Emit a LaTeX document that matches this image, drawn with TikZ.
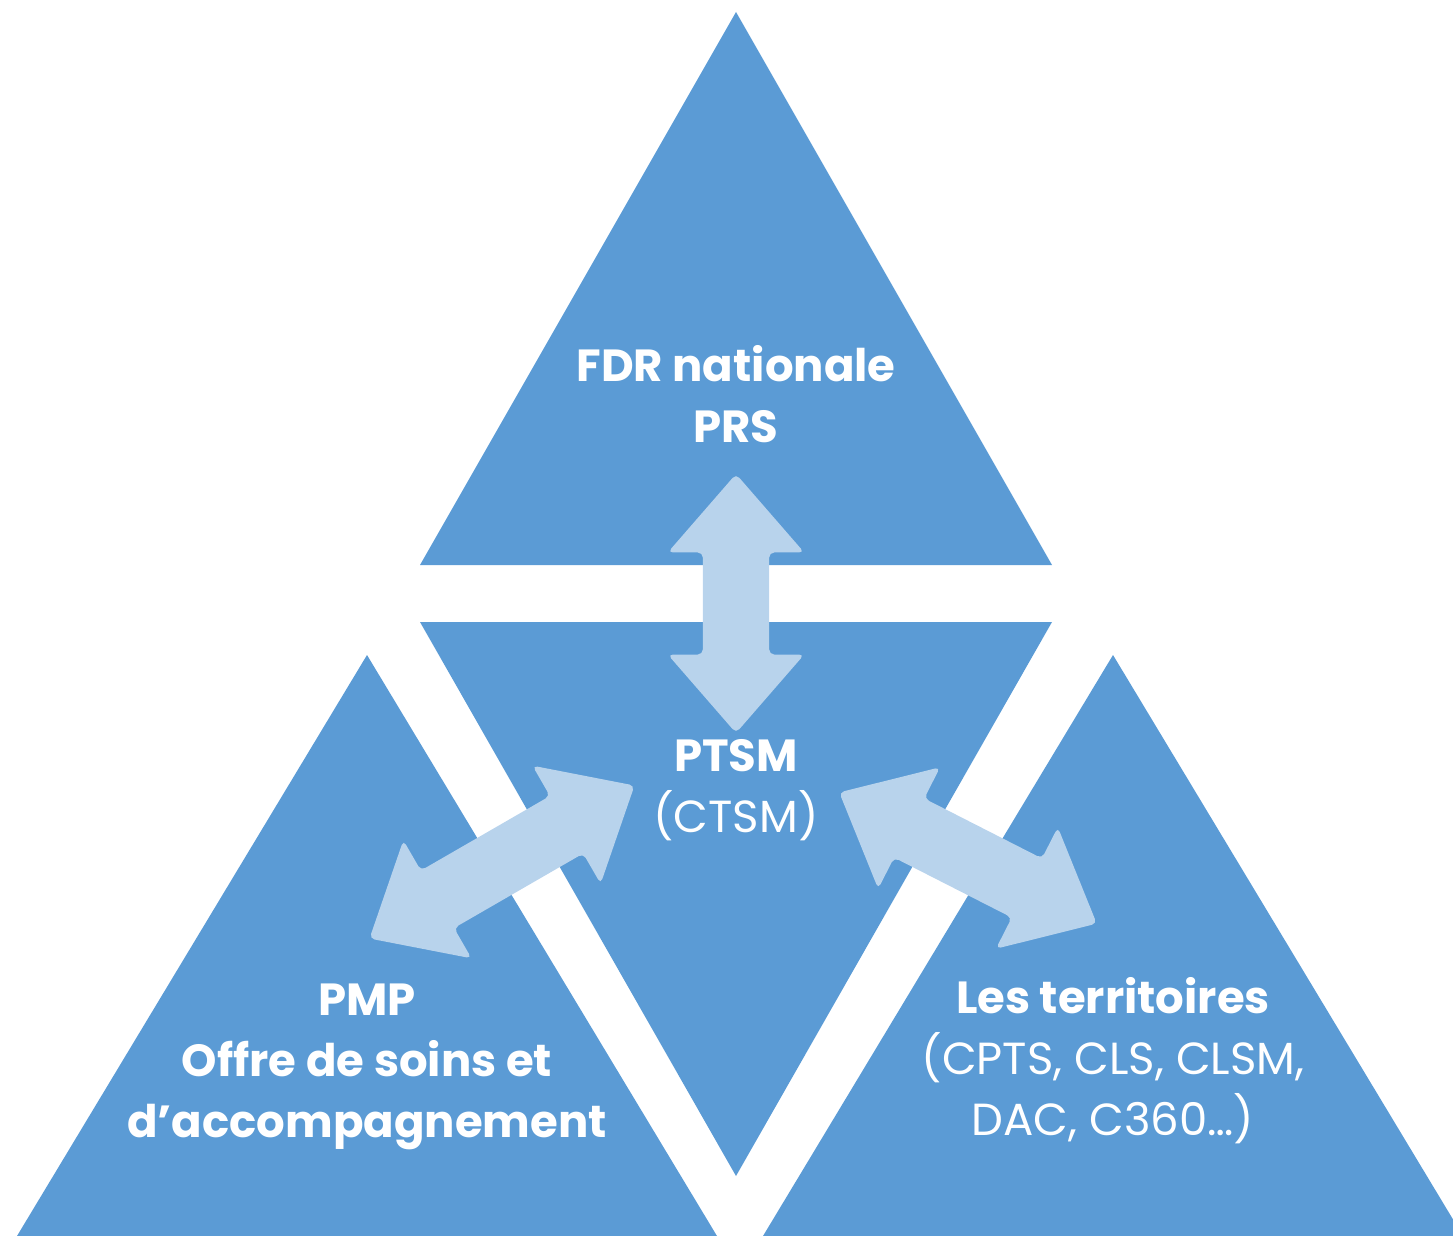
\documentclass[tikz,border=0pt]{standalone}
\usepackage{fontspec}
\setmainfont{Poppins}
\usepackage{tikz}
\usetikzlibrary{shapes.arrows}

\definecolor{triblue}{HTML}{5B9BD5}
\definecolor{arrowblue}{HTML}{B8D3EC}

\tikzset{
  lbl/.style={text=white,align=center,anchor=base,inner sep=0pt,
    font=\fontsize{45}{61}\selectfont\bfseries},
  dblarrow/.style={double arrow,fill=arrowblue,rounded corners=5pt,
    inner sep=0pt,inner ysep=33pt,minimum width=136pt,
    double arrow head extend=35pt,double arrow tip angle=82}
}
\newcommand{\thinpart}{\mdseries}

\begin{document}
\begin{tikzpicture}[x=1pt,y=-1pt]

\useasboundingbox (0,0) rectangle (1453,1236);
\clip (0,0) rectangle (1453,1236);

%%% the four triangles %%%

  \coordinate (Ta) at (736,12);
  \coordinate (Tl) at (420,565);
  \coordinate (Tr) at (1052,565);

  \coordinate (Cl) at (420,622);
  \coordinate (Cr) at (1052,622);
  \coordinate (Cb) at (736,1176);

  \coordinate (La) at (367,655);
  \coordinate (Ll) at (17,1236);
  \coordinate (Lr) at (717,1236);

  \coordinate (Ra) at (1113,655);
  \coordinate (Rl) at (763,1236);
  \coordinate (Rr) at (1463,1236);

\fill[triblue] (Ta) -- (Tl) -- (Tr) -- cycle;
\fill[triblue] (Cl) -- (Cr) -- (Cb) -- cycle;
\fill[triblue] (La) -- (Ll) -- (Lr) -- cycle;
\fill[triblue] (Ra) -- (Rl) -- (Rr) -- cycle;

%%% double arrows %%%

  \node (up) at (736,603.5) [dblarrow,rotate=90,minimum height=259pt] {};
  \node (left) at (502,862) [dblarrow,rotate=30,minimum height=306pt] {};
  \node (right) at (968,858) [dblarrow,rotate=-27,minimum height=289pt] {};

%%% labels (anchored on the last line) %%%

\node (fdr) at (736,442) [lbl] {FDR nationale\\PRS};
\node (ptsm) at (736,832) [lbl] {PTSM\\{\thinpart(CTSM)}};
\node (pmp) at (367,1137) [lbl] {PMP\\Offre de soins et\\d’accompagnement};
\node (terr) at (1113,1135) [lbl] {Les territoires\\{\thinpart(CPTS, CLS, CLSM,}\\{\thinpart DAC, C360…)}};

\end{tikzpicture}
\end{document}
